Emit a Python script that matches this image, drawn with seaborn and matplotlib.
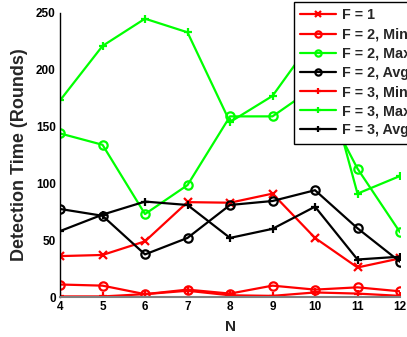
import matplotlib
matplotlib.use("Agg")
import matplotlib.pyplot as plt
import seaborn as sns
import numpy as np

# ---- data ----
N = [4, 5, 6, 7, 8, 9, 10, 11, 12]
f1 = [36, 37, 49, 83.5, 83, 91, 52, 26, 34]
f2_min = [11, 10, 2.5, 6.5, 3, 10, 6.5, 8.5, 5]
f2_max = [144, 134, 73, 98.5, 159, 159, 185, 113, 57]
f2_avg = [77.5, 71.5, 37.5, 52, 81, 84.5, 94, 60.5, 31]
f3_min = [0.5, 0.5, 2.5, 5.5, 1.5, 1, 4, 3, 1]
f3_max = [173, 221, 245, 233, 154, 177, 229, 91, 106.5]
f3_avg = [58, 72.5, 84, 81, 52, 60, 79.5, 33, 35.5]

labels = ["F = 1", "F = 2, Min", "F = 2, Max", "F = 2, Avg",
          "F = 3, Min", "F = 3, Max", "F = 3, Avg"]
series = [f1, f2_min, f2_max, f2_avg, f3_min, f3_max, f3_avg]
colors = ["#ff0000", "#ff0000", "#00ff00", "#000000", "#ff0000", "#00ff00", "#000000"]
markers = ["x", "o", "o", "o", "+", "+", "+"]

sns.set_theme(style="white")
plt.rcParams["font.family"] = ["Liberation Sans", "DejaVu Sans"]
plt.rcParams["font.weight"] = "bold"

fig = plt.figure(figsize=(4.07, 3.37), dpi=100)
ax = fig.add_axes([60/407, 1-297/337, 340/407, 284/337])

for lab, vals, c, m in zip(labels, series, colors, markers):
    sns.lineplot(x=N, y=vals, ax=ax, color=c, marker=m, markersize=6,
                 mfc="none", mec=c, mew=1.6, linewidth=1.6, label=lab)

ax.set_xlim(4, 12)
ax.set_ylim(0, 250)
ax.set_xticks(N)
ax.set_yticks([0, 50, 100, 150, 200, 250])
ax.tick_params(axis="both", length=0, labelsize=8.5, pad=3, colors="black")
for t in ax.get_xticklabels() + ax.get_yticklabels():
    t.set_fontweight("bold")

ax.set_xlabel("N", fontsize=11, fontweight="bold", labelpad=5)
ax.set_ylabel("Detection Time (Rounds)", fontsize=13, fontweight="bold", labelpad=6)

for s in ["top", "right"]:
    ax.spines[s].set_visible(False)
ax.spines["left"].set_color("black")
ax.spines["left"].set_linewidth(1.0)
ax.spines["bottom"].set_color("#808080")
ax.spines["bottom"].set_linewidth(1.5)

leg = ax.legend(loc="upper left", bbox_to_anchor=(294/407, 1-2/337),
                bbox_transform=fig.transFigure, borderaxespad=0,
                fontsize=10.3, frameon=True, fancybox=False, framealpha=1,
                edgecolor="black", handlelength=2.5, handletextpad=0.43,
                labelspacing=0.36, borderpad=0.45, markerscale=0.75)
leg.get_frame().set_linewidth(1.0)
for t in leg.get_texts():
    t.set_fontweight("bold")

fig.savefig("out.png", dpi=100)
